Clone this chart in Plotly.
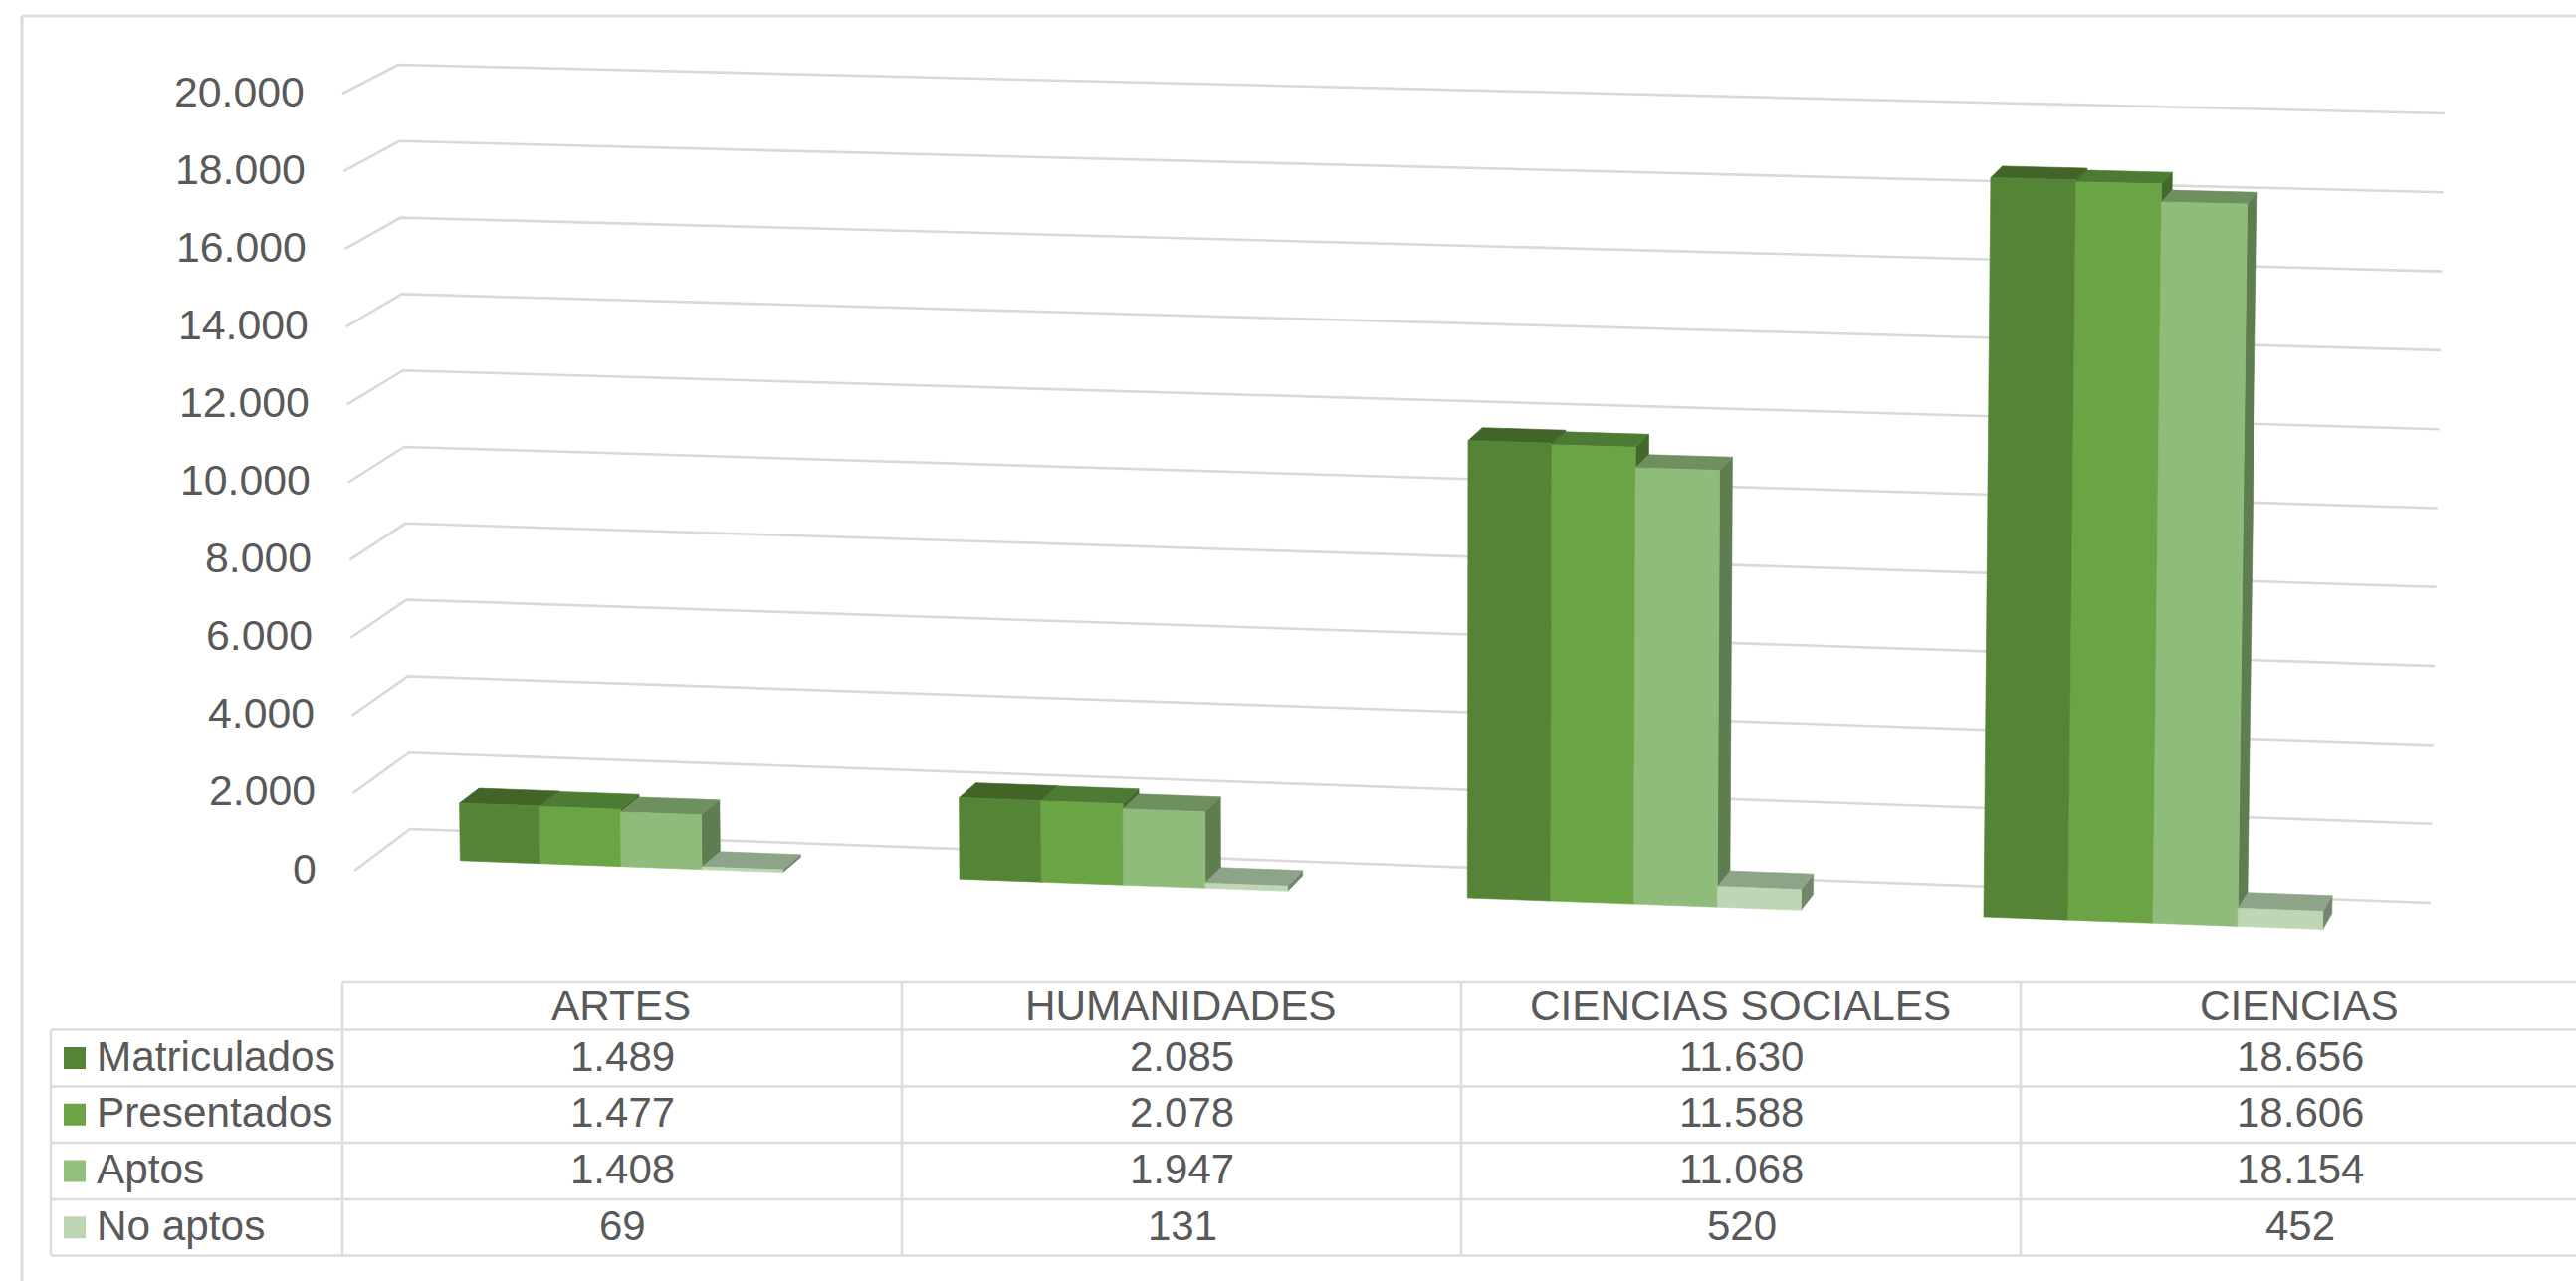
import plotly.graph_objects as go

W, H = 2588, 1287

# ---- data ----
categories = ["ARTES", "HUMANIDADES", "CIENCIAS SOCIALES", "CIENCIAS"]
series_names = ["Matriculados", "Presentados", "Aptos", "No aptos"]
matriculados = [1489, 2085, 11630, 18656]
presentados = [1477, 2078, 11588, 18606]
aptos = [1408, 1947, 11068, 18154]
no_aptos = [69, 131, 520, 452]
y_ticks = [0, 2000, 4000, 6000, 8000, 10000, 12000, 14000, 16000, 18000, 20000]

front_colors = ["#558436", "#6AA444", "#90BC7B", "#BFD6B4"]
top_colors = ["#426527", "#4E7B33", "#6E8F5E", "#8EA488"]
side_colors = ["#3F6426", "#42692A", "#5E7D50", "#72866B"]
legend_colors = ["#558436", "#6AA444", "#93BE7E", "#BFD6B4"]
TEXT = "#595959"
GRID = "#d9d9d9"
BORDER = "#dcdcdc"
FONT = "Liberation Sans"

series = [matriculados, presentados, aptos, no_aptos]
VMAX = 20000.0

# ---- the oblique 3D view: where the box corners of the chart fall on the canvas ----
CORNERS = {  # (side, depth, level) -> canvas position
    (0, 0, 0): (356, 875), (0, 0, 1): (344, 94),
    (0, 1, 0): (412, 833), (0, 1, 1): (400, 65),
    (1, 0, 0): (2418, 951), (1, 0, 1): (2430, 146),
    (1, 1, 0): (2442, 907), (1, 1, 1): (2456, 114),
}
PERSP = 4.25 / 496.5
Y0, Y_PER_UNIT = 874.0, 781.0 / VMAX
GROUP = 0.648         # share of a category taken by its bars
CENTER = 0.502        # centre of a bar group inside its category
D0, D1 = 0.32, 0.68   # depth span of the bars
TICK_LABEL_DX = 36    # gap between the tick label and the front edge
TICK_LABEL_DY = 62    # label lift, in value units


def project(u, d, v):
    """category position u (0..n), depth d (0..1), value v -> axis coordinates"""
    n = len(categories)
    s = (u + PERSP * u * u) / (n + PERSP * n * n)
    t = v / VMAX
    px = py = 0.0
    for (a, b, c), (cx, cy) in CORNERS.items():
        w = (s if a else 1 - s) * (d if b else 1 - d) * (t if c else 1 - t)
        px += w * cx
        py += w * cy
    return px, (Y0 - py) / Y_PER_UNIT


def poly_trace(polys, color, name):
    xs, ys = [], []
    for corners in polys:
        pts = [project(*c) for c in corners]
        pts.append(pts[0])
        xs += [p[0] for p in pts] + [None]
        ys += [p[1] for p in pts] + [None]
    return go.Scatter(x=xs, y=ys, mode="lines", fill="toself", fillcolor=color,
                      line=dict(color=color, width=0.6), name=name,
                      hoverinfo="skip", showlegend=False)


fig = go.Figure()

# gridlines: front edge -> back-left corner -> along the back wall
gx, gy = [], []
for v in y_ticks:
    for p in (project(0, 0, v), project(0, 1, v), project(len(categories), 1, v)):
        gx.append(p[0])
        gy.append(p[1])
    gx.append(None)
    gy.append(None)
fig.add_trace(go.Scatter(x=gx, y=gy, mode="lines", line=dict(color=GRID, width=2.6),
                         hoverinfo="skip", showlegend=False, name="grid"))

# bars, left to right so that a later bar hides the side of the one before it
nb = len(series)
bw = GROUP / nb
for k, values in enumerate(series):
    fronts, sides, tops = [], [], []
    for i, v in enumerate(values):
        u0 = i + CENTER - GROUP / 2 + k * bw
        u1 = u0 + bw
        fronts.append([(u0, D0, 0), (u1, D0, 0), (u1, D0, v), (u0, D0, v)])
        sides.append([(u1, D0, 0), (u1, D1, 0), (u1, D1, v), (u1, D0, v)])
        tops.append([(u0, D0, v), (u1, D0, v), (u1, D1, v), (u0, D1, v)])
    fig.add_trace(poly_trace(sides, side_colors[k], series_names[k] + " lateral"))
    fig.add_trace(poly_trace(tops, top_colors[k], series_names[k] + " superior"))
    fig.add_trace(poly_trace(fronts, front_colors[k], series_names[k]))

annotations = []
shapes = []


def fmt(v):
    return f"{v:,}".replace(",", ".")


def px_x(x):
    return x / W


def px_y(y):
    return 1 - y / H


def label(text, x, y, anchor="center", size=42.3):
    annotations.append(dict(text=text, x=px_x(x), y=px_y(y), xref="paper", yref="paper",
                            xanchor=anchor, yanchor="middle", showarrow=False,
                            font=dict(family=FONT, size=size, color=TEXT)))


def rule(x0, y0, x1, y1, color=BORDER, width=2.5):
    shapes.append(dict(type="line", xref="paper", yref="paper", x0=px_x(x0), y0=px_y(y0),
                       x1=px_x(x1), y1=px_y(y1), line=dict(color=color, width=width)))


# value axis labels, following the slanted front edge
for v in y_ticks:
    fx, fy = project(0, 0, v)
    annotations.append(dict(text=fmt(v), x=fx - TICK_LABEL_DX, y=fy + TICK_LABEL_DY,
                            xref="x", yref="y", xanchor="right", yanchor="middle",
                            showarrow=False,
                            font=dict(family=FONT, size=42.8, color=TEXT)))

# card outline
rule(22, 16, W, 16, width=3)
rule(22, 16, 22, H, width=3)

# data table
COLS = [344, 906, 1468, 2030, W + 3]
ROWS = [987, 1034.5, 1091.5, 1148, 1205, 1261.5]
TABLE_LEFT = 51
for y in ROWS[:1]:
    rule(COLS[0], y, W, y)
for y in ROWS[1:]:
    rule(TABLE_LEFT, y, W, y)
rule(TABLE_LEFT, ROWS[1], TABLE_LEFT, ROWS[-1])
for x in COLS[:-1]:
    rule(x, ROWS[0], x, ROWS[-1])

for i, c in enumerate(categories):
    label(c, (COLS[i] + COLS[i + 1]) / 2 - 1, (ROWS[0] + ROWS[1]) / 2 - 0.5)
for k, name in enumerate(series_names):
    yc = (ROWS[k + 1] + ROWS[k + 2]) / 2
    shapes.append(dict(type="rect", xref="paper", yref="paper", x0=px_x(64), x1=px_x(86),
                       y0=px_y(yc - 11), y1=px_y(yc + 11), line=dict(width=0),
                       fillcolor=legend_colors[k]))
    label(name, 95, yc - 2, anchor="left")
    for i, v in enumerate(series[k]):
        label(fmt(v), (COLS[i] + COLS[i + 1]) / 2 + 0.5, yc - 2, size=42)

fig.update_layout(
    width=W, height=H, autosize=False,
    margin=dict(l=0, r=0, t=0, b=0),
    paper_bgcolor="white", plot_bgcolor="white", showlegend=False,
    xaxis=dict(range=[0, W], visible=False, fixedrange=True),
    yaxis=dict(range=[(Y0 - H) / Y_PER_UNIT, Y0 / Y_PER_UNIT], visible=False, fixedrange=True),
    annotations=annotations, shapes=shapes,
)

fig.write_html("out.html", config={"displayModeBar": False},
               post_script="document.body.style.margin='0';document.body.style.overflow='hidden';")
